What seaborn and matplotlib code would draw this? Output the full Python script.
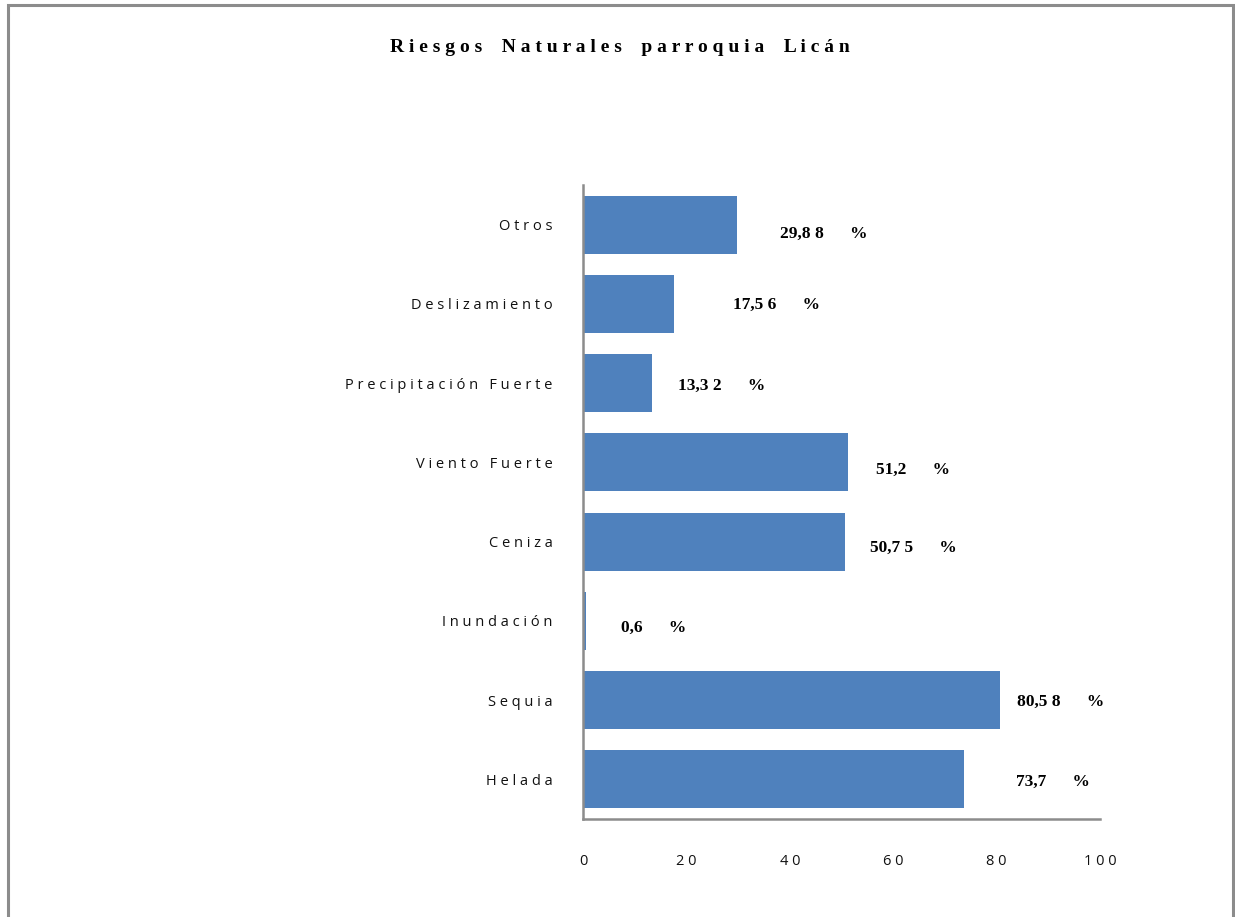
import matplotlib
matplotlib.use("Agg")
import matplotlib.pyplot as plt
import seaborn as sns
import pandas as pd
from matplotlib.patches import Rectangle

categories = ["Otros", "Deslizamiento", "Precipitación Fuerte", "Viento Fuerte",
              "Ceniza", "Inundación", "Sequia", "Helada"]
values = [29.88, 17.56, 13.32, 51.2, 50.75, 0.6, 80.58, 73.7]
x_ticks = [0, 20, 40, 60, 80, 100]
title = "Riesgos Naturales parroquia Licán"

# label placement offsets (pixels) relative to bar end / bar centre
label_dx = [43, 59, 26, 28, 25, 35, 17, 52]
label_dy = [-9, -1, -3, -7, -6, -7, -2, -2]


def spaced(text, gap=" ", word_gap="   "):
    return word_gap.join(gap.join(list(w)) for w in text.split(" "))


def value_label(v):
    s = f"{v:g}".replace(".", ",")
    ip, _, dp = s.partition(",")
    return ip + "," + " ".join(dp) + "      %"


sns.set_theme(style="white")
plt.rcParams["font.family"] = ["Open Sans", "DejaVu Sans"]

df = pd.DataFrame({"cat": categories, "val": values})

fig = plt.figure(figsize=(12.35, 9.17), dpi=100)
ax = fig.add_axes([583 / 1235, 1 - 819 / 917, (1100 - 583) / 1235, (819 - 185) / 917])

sns.barplot(data=df, x="val", y="cat", orient="h", color="#4F81BD",
            saturation=1, width=0.73, ax=ax, order=categories)
for p in ax.patches:
    p.set_edgecolor("none")

ax.set_xlim(0, 100)
ax.set_ylim(len(categories) - 0.5, -0.5)
ax.set_xticks(x_ticks)
ax.set_xticklabels([spaced(str(t)) for t in x_ticks], fontsize=10.5, color="#111111")
ax.set_yticks(range(len(categories)))
ax.set_yticklabels([spaced(c) for c in categories], fontsize=10.5, color="#111111")
ax.tick_params(axis="x", length=0, pad=25)
ax.tick_params(axis="y", length=0, pad=22)
ax.set_xlabel("")
ax.set_ylabel("")

for s in ["top", "right"]:
    ax.spines[s].set_visible(False)
for s in ["left", "bottom"]:
    ax.spines[s].set_color("#8c8c8c")
    ax.spines[s].set_linewidth(1.8)

for i, v in enumerate(values):
    ax.annotate(value_label(v), xy=(v, i), xytext=(label_dx[i], label_dy[i]),
                textcoords="offset pixels", ha="left", va="center",
                fontsize=12.5, fontweight="bold",
                family=["Liberation Serif", "DejaVu Serif"], color="#000000")

fig.text(620 / 1235, 1 - 48 / 917, spaced(title, " ", "    "), ha="center", va="center",
         fontsize=14, fontweight="bold", family=["Liberation Serif", "DejaVu Serif"],
         color="#000000")

frame = Rectangle((8 / 1235, -0.05), (1233 - 8) / 1235, 1 - 5 / 917 + 0.05,
                  transform=fig.transFigure, fill=False, edgecolor="#8c8c8c",
                  linewidth=2.2, zorder=10)
fig.patches.append(frame)

fig.savefig("out.png", dpi=100, facecolor="white")
